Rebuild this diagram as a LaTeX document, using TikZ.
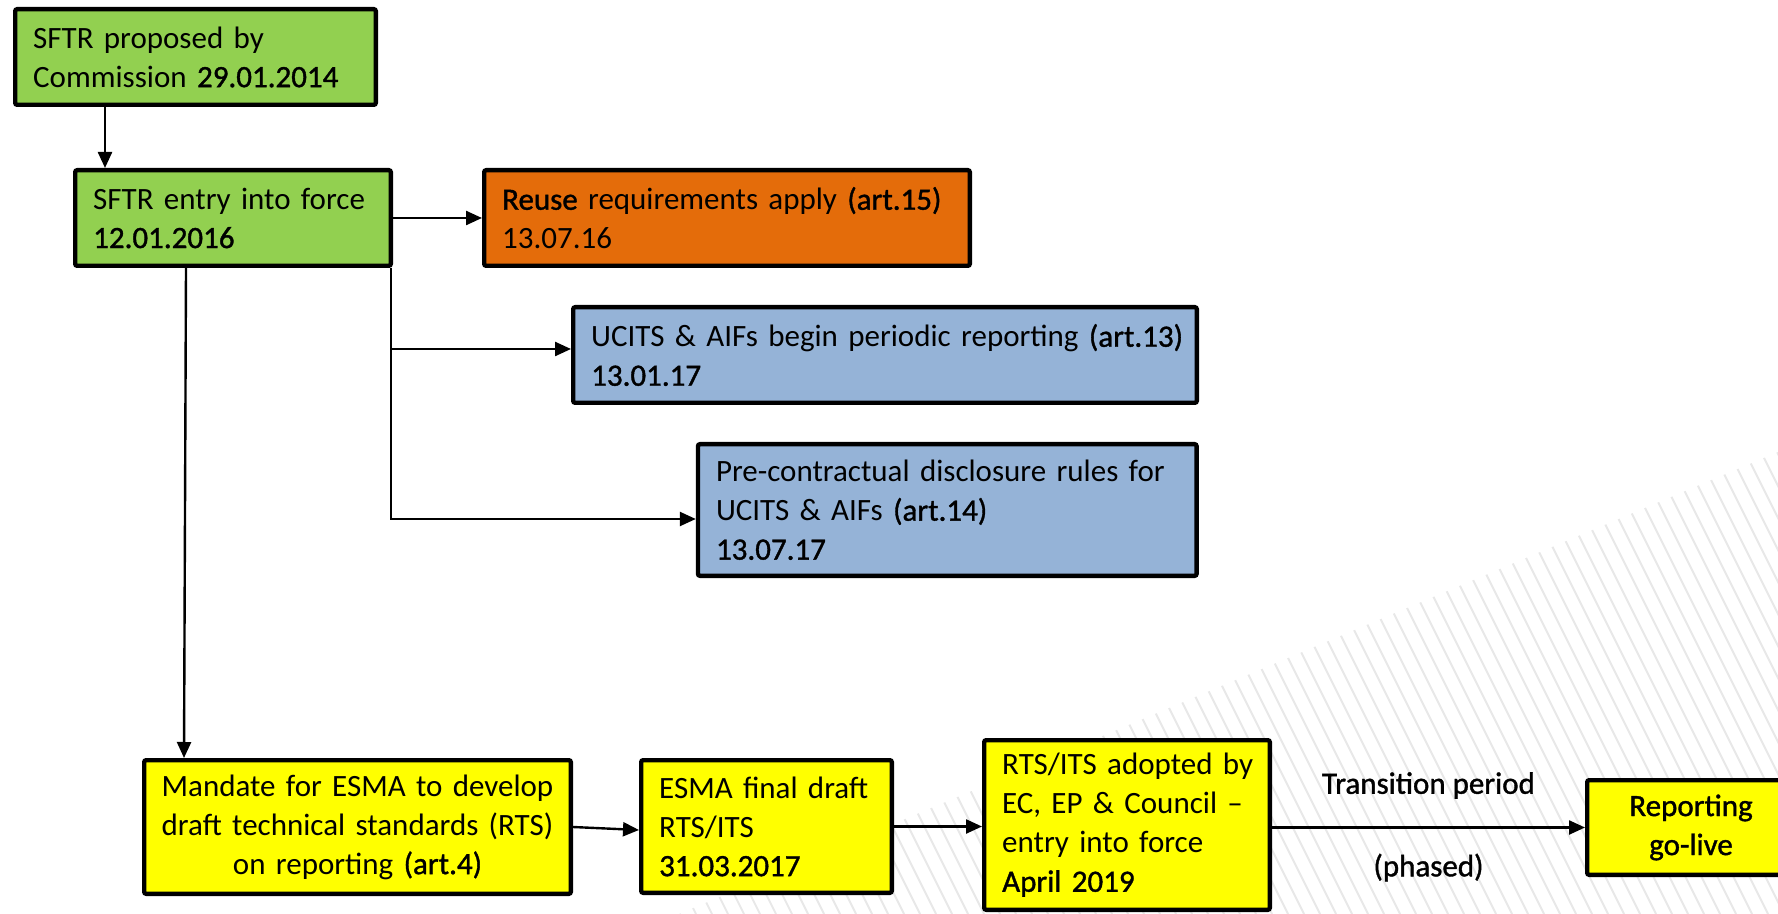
\documentclass[tikz,border=0pt]{standalone}
\usepackage{fontspec}
\setmainfont{Carlito}
\newfontfamily\heavyfont[FakeBold=1.2]{Carlito}
\usetikzlibrary{arrows.meta}
\definecolor{sftrgreen}{RGB}{146, 208, 80}
\definecolor{reuseorange}{RGB}{228, 108, 10}
\definecolor{fundblue}{RGB}{149, 179, 215}
\definecolor{esmayellow}{RGB}{255, 255, 0}
\newcommand{\keytext}[1]{{\heavyfont #1}}

\begin{document}
\begin{tikzpicture} [
      x=0.5pt, y=-0.5pt,
      font=\fontsize{15.5}{19.5}\selectfont,
      box/.style={rectangle, rounded corners=1pt, draw=black, line width=2.2pt, inner xsep=9pt, inner ysep=3pt, align=left},
      greenbox/.style={box, fill=sftrgreen},
      orangebox/.style={box, fill=reuseorange},
      bluebox/.style={box, fill=fundblue},
      yellowbox/.style={box, fill=esmayellow},
      flow/.style={-{Triangle[length=8pt, width=7pt]}, line width=1.2pt},
      hatch/.style={draw=black!9, line width=1pt},
      note/.style={midway, font=\heavyfont\fontsize{15.5}{19.5}\selectfont}
  ]
  \useasboundingbox (0,0) rectangle (1778,914);

  % striped background, bottom right
  \begin{scope}
    \clip (679,914) -- (1778,452) -- (1778,914) -- cycle;
    \foreach \x in {680,696,...,2020}
      \draw[hatch] ({\x-231},452) -- (\x,914);
  \end{scope}

  \node[greenbox, text width=162.3pt, minimum height=47.8pt] (propose) at (195.5,57) {SFTR proposed by\\Commission \keytext{29.01.2014}};
  \node[greenbox, text width=139.8pt, minimum height=47.8pt] (entry) at (233,218) {SFTR entry into force\\\keytext{12.01.2016}};
  \node[orangebox, text width=224.8pt, minimum height=47.8pt] (reuse) at (727,218) {\keytext{Reuse} requirements apply \keytext{(art.15)}\\13.07.16};
  \node[bluebox, text width=293.8pt, minimum height=47.8pt] (ucits) at (885,355) {\mbox{UCITS \& AIFs begin periodic reporting \keytext{(art.13)}}\\\keytext{13.01.17}};
  \node[bluebox, text width=231.3pt, minimum height=65.8pt] (precon) at (947.3,510) {Pre-contractual disclosure rules for\\UCITS \& AIFs \keytext{(art.14)}\\\keytext{13.07.17}};

  \node[yellowbox, inner xsep=7pt, text width=199.3pt, minimum height=66.8pt, align=center] (mandate) at (357.5,827) {Mandate for ESMA to develop\\draft technical standards (RTS)\\on reporting \keytext{(art.4)}};
  \node[yellowbox, text width=107.3pt, minimum height=66.3pt] (esma) at (766.5,826.5) {ESMA final draft\\RTS/ITS\\\keytext{31.03.2017}};
  \node[yellowbox, text width=124.8pt, minimum height=84.8pt] (adopt) at (1127,825) {\mbox{RTS/ITS adopted by}\\EC, EP \& Council --\\entry into force\\\keytext{April 2019}};
  \node[yellowbox, inner xsep=7pt, text width=89.8pt, minimum height=47.3pt, align=center] (golive) at (1691,827.5) {\keytext{Reporting}\\\keytext{go-live}};

  \draw[flow] ([xshift=-45.25pt]propose.south) -- ([xshift=-45.25pt]propose.south |- entry.north);
  \draw[flow] (entry.east) -- (reuse.west);
  \draw[flow] ([xshift=-1pt]entry.south east) |- ([yshift=3pt]ucits.west);
  \draw[flow] ([xshift=-1pt]entry.south east) |- ([yshift=-4.5pt]precon.west);
  \draw[flow] ([xshift=-23.5pt]entry.south) -- ([xshift=-86.75pt]mandate.north);
  \draw[flow] (mandate.east) -- ([yshift=-1.75pt]esma.west);
  \draw[flow] (esma.east) -- (esma.east -| adopt.west);
  \draw[flow] (golive.west -| adopt.east) -- node[note, yshift=21pt] {Transition period} node[note, yshift=-20pt] {(phased)} (golive.west);
\end{tikzpicture}
\end{document}
